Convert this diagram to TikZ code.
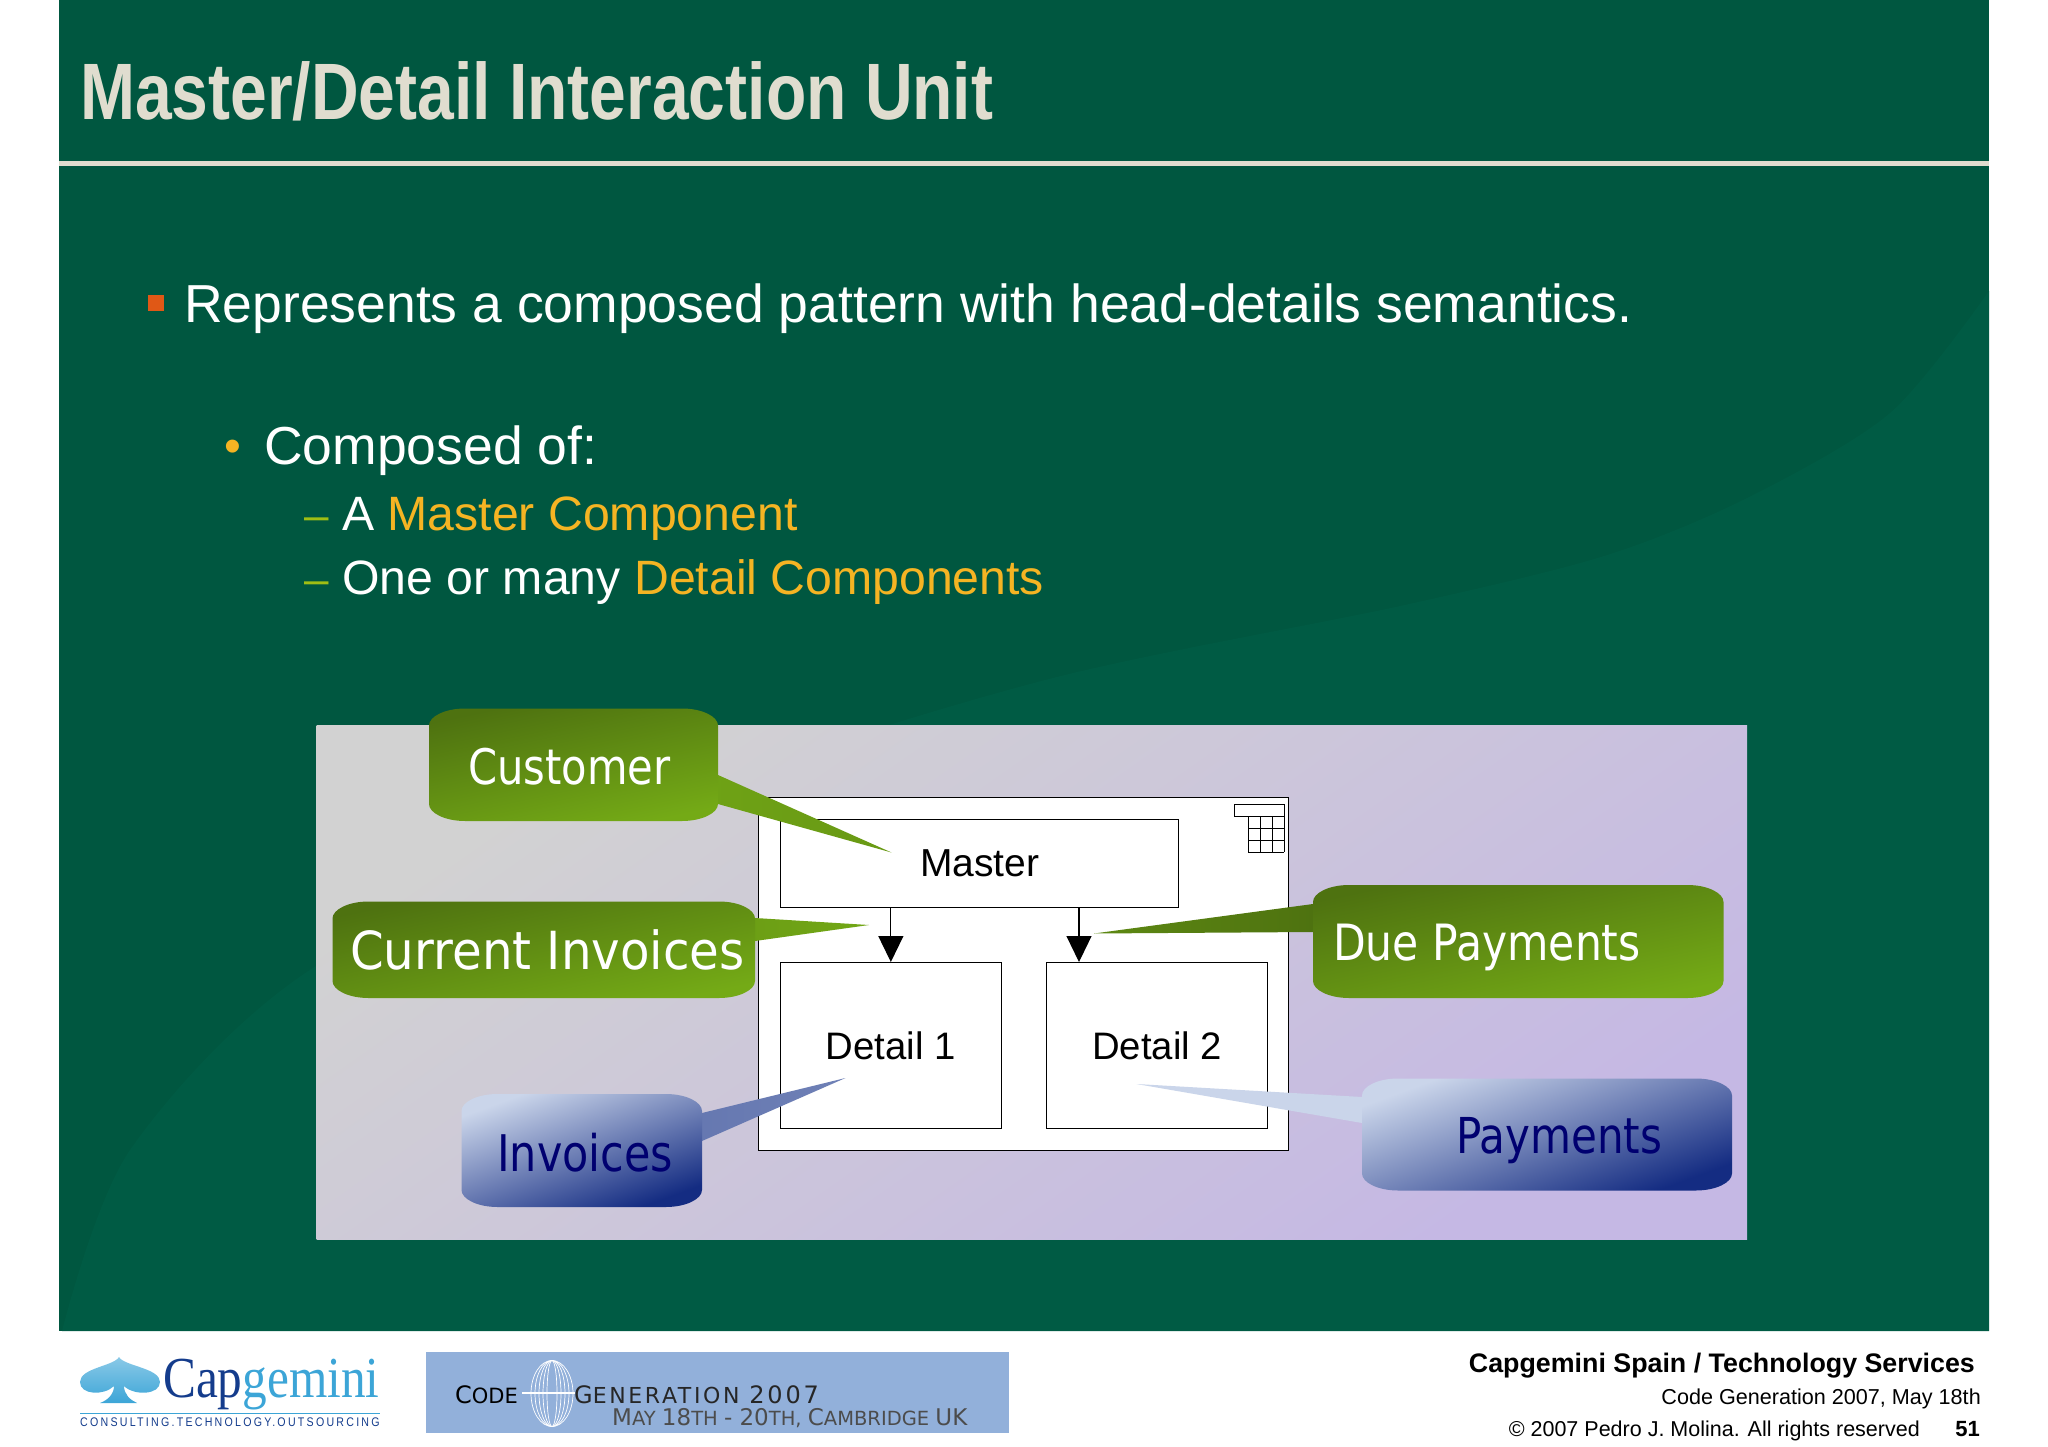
\documentclass[tikz,border=0pt]{standalone}
\usepackage{fontspec}
\usepackage{xcolor}
\usetikzlibrary{arrows.meta, positioning, calc}
\setmainfont{Liberation Sans}
\newfontfamily\titlefont[FakeStretch=0.825]{Liberation Sans}
\newfontfamily\bubblefont[FakeStretch=0.85]{DejaVu Sans}
\newfontfamily\bubblewide[FakeStretch=0.92]{DejaVu Sans}
\newfontfamily\logofont[FakeStretch=0.85]{Liberation Serif}
\newfontfamily\tagfont[FakeStretch=0.85,LetterSpace=18]{Liberation Sans}
\newfontfamily\bannerfont{DejaVu Sans}
\newfontfamily\bannerwide[LetterSpace=12]{DejaVu Sans}
\newcommand{\fs}[1]{\fontsize{#1}{#1}\selectfont}
\definecolor{slidegreen}{RGB}{0,87,64}
\definecolor{slideswoosh}{RGB}{0,91,68}
\definecolor{titlecream}{RGB}{224,221,207}
\definecolor{accentyellow}{RGB}{245,180,35}
\definecolor{accentorange}{RGB}{224,88,22}
\definecolor{dashgreen}{RGB}{160,190,20}
\definecolor{greendark}{RGB}{78,114,16}
\definecolor{greenlight}{RGB}{116,170,22}
\definecolor{bluelight}{RGB}{202,213,234}
\definecolor{bluemid}{RGB}{165,178,212}
\definecolor{bluedark}{RGB}{20,44,130}
\definecolor{panelgray}{RGB}{210,210,210}
\definecolor{panellilac}{RGB}{197,184,228}
\definecolor{textnavy}{RGB}{0,0,112}
\definecolor{capdark}{RGB}{20,60,140}
\definecolor{caplight}{RGB}{60,165,215}
\definecolor{bannerblue}{RGB}{146,176,218}
\tikzset{
    boxwhite/.style={rectangle,draw=black,fill=white,line width=1.2pt,anchor=north west,inner sep=0pt},
    greenfill/.style={top color=greendark,bottom color=greenlight,shading angle=12},
    bluefill/.style={top color=bluelight,middle color=bluemid,bottom color=bluedark,shading angle=20},
    bubbletext/.style={anchor=base west,inner sep=0pt,font=\bubblefont\fs{49}},
    linkarrow/.style={-{Triangle[width=25pt,length=26pt]},line width=1.2pt,black},
    bodytext/.style={anchor=base west,inner sep=0pt,text=white}
}
% bubble body: style, left, top, right, bottom
\newcommand{\bubble}[5]{
    \shade[#1] (#2+36,#3) -- (#4-36,#3)
        .. controls (#4-16,#3) and (#4,#3+8) .. (#4,#3+17) -- (#4,#5-17)
        .. controls (#4,#5-8) and (#4-16,#5) .. (#4-36,#5) -- (#2+36,#5)
        .. controls (#2+16,#5) and (#2,#5-8) .. (#2,#5-17) -- (#2,#3+17)
        .. controls (#2,#3+8) and (#2+16,#3) .. (#2+36,#3) -- cycle;
}
\begin{document}
\begin{tikzpicture}[x=1pt,y=-1pt]
    \useasboundingbox (0,0) rectangle (2048,1447);
    % Slide
    \fill[slidegreen] (59,0) rectangle (1989,1331);
    \fill[slideswoosh] plot[smooth] coordinates {(62,1331) (130,1150) (316,966) (700,790) (1045,680) (1400,606) (1604,556) (1747,498) (1890,413) (1989,291)} -- (1989,1331) -- cycle;
    \node[anchor=base west,inner sep=0pt,text=titlecream,font=\titlefont\bfseries\fs{80}] (title) at (80,120) {Master/Detail Interaction Unit};
    \fill[titlecream] (59,161) rectangle (1989,166);

    % Testo
    \fill[accentorange] (148,295) rectangle (164,311);
    \node[bodytext,font=\fs{53.5}] (lineone) at (184,323) {Represents a composed pattern with head-details semantics.};
    \node[font=\fs{48},text=accentyellow,inner sep=0pt,anchor=base] (dot) at (233,462) {•};
    \node[bodytext,font=\fs{53.5}] (linetwo) at (264,464) {Composed of:};
    \node[bodytext,font=\fs{44},text=dashgreen] (dashone) at (304,530) {–};
    \node[bodytext,font=\fs{48.2}] (linethree) at (342,530) {A \textcolor{accentyellow}{Master Component}};
    \node[bodytext,font=\fs{44},text=dashgreen] (dashtwo) at (304,594) {–};
    \node[bodytext,font=\fs{48.2}] (linefour) at (342,594) {One or many \textcolor{accentyellow}{Detail Components}};

    % Pannello
    \shade[top color=panelgray,bottom color=panellilac,shading angle=35] (316.5,725) rectangle (1747,1239);

    % Box principale
    \node[boxwhite,minimum width=530.5pt,minimum height=353pt] (unit) at (757.5,797) {};
    \node[boxwhite,minimum width=398pt,minimum height=88pt,font=\fs{39}] (master) at (780,819) {Master};
    \node[boxwhite,minimum width=220.5pt,minimum height=165.5pt,font=\fs{38.3}] (detailone) at (780,962) {Detail 1};
    \node[boxwhite,minimum width=221pt,minimum height=165.5pt,font=\fs{38.3}] (detailtwo) at (1046,962) {Detail 2};

    % Icona
    \draw[line width=1pt,fill=white] (1234,804) rectangle (1284,816);
    \foreach \gx in {1248,1260,1272,1284} \draw[line width=1pt] (\gx,816) -- (\gx,852);
    \foreach \gy in {828,840,852} \draw[line width=1pt] (1248,\gy) -- (1284,\gy);

    % Frecce
    \coordinate (detailtwotop) at (1079,962);
    \draw[linkarrow] (master.south -| detailone.north) -- (detailone.north);
    \draw[linkarrow] (master.south -| detailtwotop) -- (detailtwotop);

    % Etichette verdi
    \shade[left color=greenlight!85!greendark,right color=greenlight!70!greendark] (718,775) -- (891.5,852.5) -- (718,804) -- cycle;
    \bubble{greenfill}{429}{708.5}{718}{821}
    \node[bubbletext,text=white] (customer) at (468,784.5) {Customer};

    \shade[left color=greenlight!80!greendark,right color=greenlight!95!greendark] (755,918) -- (869,925) -- (755,941) -- cycle;
    \bubble{greenfill}{332.5}{901.5}{755}{998}
    \node[bubbletext,text=white,font=\bubblewide\fs{52.5}] (current) at (350,969) {Current Invoices};

    \shade[left color=greendark!60!greenlight,right color=greendark] (1094,933.5) -- (1313,904) -- (1313,932) -- cycle;
    \bubble{greenfill}{1313}{885}{1723.5}{998}
    \node[bubbletext,text=white,font=\bubblefont\fs{50}] (due) at (1333,960) {Due Payments};

    % Etichette blu
    \shade[left color=bluedark!55!bluelight,right color=bluedark!50!bluelight] (702,1113) -- (845.5,1078) -- (702,1141) -- cycle;
    \bubble{bluefill}{461.5}{1094}{702}{1207}
    \node[bubbletext,text=textnavy,font=\bubblefont\fs{50.5}] (invoices) at (497,1171) {Invoices};

    \shade[left color=bluelight,right color=bluelight] (1136.5,1084) -- (1362,1097) -- (1362,1123) -- cycle;
    \bubble{bluefill}{1362}{1078.5}{1732}{1190.5}
    \node[bubbletext,text=textnavy,font=\bubblefont\fs{49.5}] (payments) at (1456,1153) {Payments};

    % Logo
    \shade[top color=caplight!60,bottom color=caplight] (119,1357)
        .. controls (124,1366) and (160,1368) .. (160,1382)
        .. controls (160,1395) and (134,1396) .. (124,1386)
        .. controls (124,1394) and (130,1400) .. (137,1403) -- (100,1403)
        .. controls (108,1400) and (114,1394) .. (114,1386)
        .. controls (104,1396) and (80,1395) .. (80,1382)
        .. controls (80,1368) and (114,1366) .. (119,1357) -- cycle;
    \node[anchor=base west,inner sep=0pt,font=\logofont\fs{58}] (logo) at (163,1397) {\textcolor{capdark}{Cap}\textcolor{caplight}{gemini}};
    \fill[caplight] (80,1412.5) rectangle (380,1414);
    \node[anchor=base west,inner sep=0pt,font=\tagfont\fs{12.5},text=capdark] (tagline) at (80,1426) {CONSULTING.TECHNOLOGY.OUTSOURCING};

    % Banner
    \fill[bannerblue] (426,1352) rectangle (1009,1433);
    \foreach \rx in {5,9,13,17,21} \draw[white,line width=.7pt] (552,1393.5) ellipse [x radius=\rx,y radius=33];
    \draw[white,line width=1.2pt] (522,1393) -- (575,1393);
    \node[anchor=base west,inner sep=0pt,font=\bannerfont] (bannercode) at (455,1403) {\fs{24}C\fs{21}ODE};
    \node[anchor=base west,inner sep=0pt,font=\bannerwide,text=black!85] (bannergen) at (574,1403) {\fs{24}G\fs{22}ENERATION \fs{24}2007};
    \node[anchor=base west,inner sep=0pt,font=\bannerfont,text=black!70] (bannerdate) at (612,1425) {\fs{23}M\fs{19.5}AY \fs{23}18\fs{19.5}TH \fs{23}- 20\fs{19.5}TH, \fs{23}C\fs{19.5}AMBRIDGE \fs{23}UK};

    % Piede
    \node[anchor=base east,inner sep=0pt,font=\bfseries\fs{26.8}] (footone) at (1975,1372) {Capgemini Spain / Technology Services};
    \node[anchor=base east,inner sep=0pt,font=\fs{21.6}] (foottwo) at (1981,1404) {Code Generation 2007, May 18th};
    \node[anchor=base east,inner sep=0pt,font=\fs{21.5}] (footthree) at (1920,1436) {© 2007 Pedro J. Molina. All rights reserved};
    \node[anchor=base east,inner sep=0pt,font=\bfseries\fs{22}] (pagenum) at (1980,1436) {51};
\end{tikzpicture}
\end{document}
